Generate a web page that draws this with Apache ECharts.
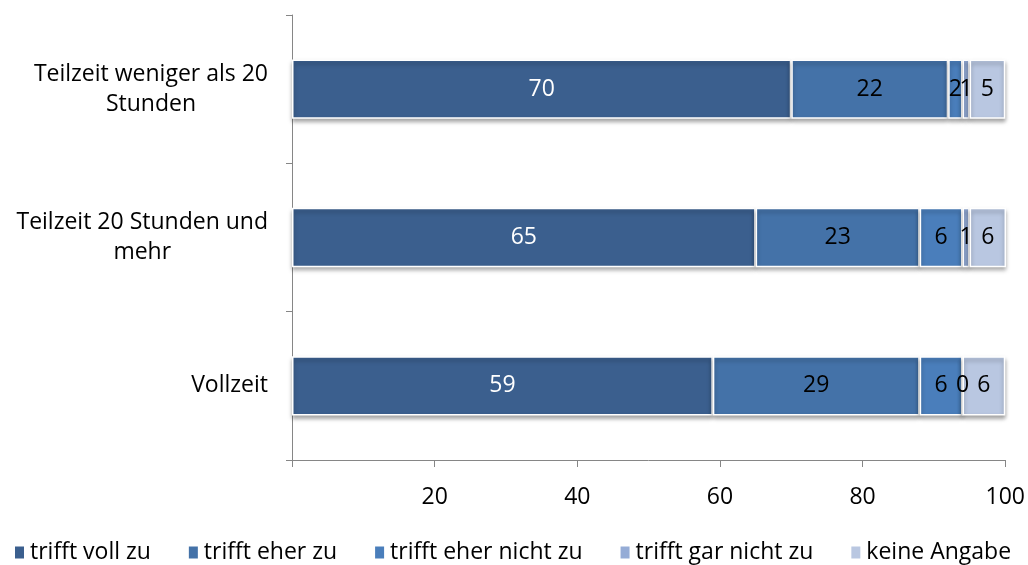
<!DOCTYPE html>
<html>
<head>
<meta charset="utf-8">
<script src="https://cdn.jsdelivr.net/npm/echarts@6/dist/echarts.min.js"></script>
<style>
html,body{margin:0;padding:0;background:#fff;}
#chart{width:1028px;height:565px;}
</style>
</head>
<body>
<div id="chart"></div>
<script>
// Categories listed bottom to top (ECharts category y axis starts at the bottom)
const categories = ["Vollzeit", "Teilzeit 20 Stunden und mehr", "Teilzeit weniger als 20 Stunden"];
const categoryLabels = ["Vollzeit", "Teilzeit 20 Stunden und\nmehr", "Teilzeit weniger als 20\nStunden"];
const seriesNames = ["trifft voll zu", "trifft eher zu", "trifft eher nicht zu", "trifft gar nicht zu", "keine Angabe"];
const trifftVollZu = [59, 65, 70];
const trifftEherZu = [29, 23, 22];
const trifftEherNichtZu = [6, 6, 2];
const trifftGarNichtZu = [0, 1, 1];
const keineAngabe = [6, 6, 5];
const xTicks = [0, 20, 40, 60, 80, 100];

const seriesValues = [trifftVollZu, trifftEherZu, trifftEherNichtZu, trifftGarNichtZu, keineAngabe];
const colors = ["#3b5f8e", "#4472a8", "#4a7ebb", "#95acd6", "#b9c7e1"];
const labelColors = ["#ffffff", "#000000", "#000000", "#000000", "#000000"];
const FONT = "'Open Sans', sans-serif";
const FS = 23;

const chart = echarts.init(document.getElementById('chart'));
chart.setOption({
  animation: false,
  color: colors,
  textStyle: { fontFamily: FONT },
  grid: { left: 292, right: 22, top: 15, bottom: 105 },
  legend: {
    bottom: -4,
    left: 8,
    itemWidth: 11,
    itemHeight: 14,
    itemGap: 36,
    icon: 'rect',
    textStyle: { fontSize: FS, color: '#000', fontFamily: FONT },
    data: seriesNames
  },
  xAxis: {
    type: 'value',
    min: xTicks[0],
    max: xTicks[xTicks.length - 1],
    interval: 20,
    splitLine: { show: false },
    axisLine: { show: true, lineStyle: { color: '#868686', width: 1 } },
    axisTick: { show: true, length: 7, lineStyle: { color: '#868686' } },
    axisLabel: {
      margin: 26, fontSize: FS, color: '#000', fontFamily: FONT,
      formatter: v => v === 0 ? '' : String(v)
    }
  },
  yAxis: {
    type: 'category',
    data: categories,
    axisLine: { show: true, lineStyle: { color: '#868686', width: 1 } },
    axisTick: { show: true, length: 6, lineStyle: { color: '#868686' } },
    axisLabel: {
      margin: 24,
      color: '#000',
      fontSize: FS,
      lineHeight: 30,
      fontFamily: FONT,
      formatter: (v, i) => categoryLabels[i].split('\n').map(s => '{c|' + s + '}').join('\n'),
      rich: { c: { align: 'center', fontSize: FS, lineHeight: 30, fontFamily: FONT, color: '#000' } }
    }
  },
  series: seriesNames.map((name, k) => ({
    name: name,
    type: 'bar',
    stack: 'total',
    barWidth: '40%',
    data: seriesValues[k],
    itemStyle: {
      color: colors[k],
      borderColor: '#ffffff',
      borderWidth: 1.5,
      shadowColor: 'rgba(0,0,0,0.35)',
      shadowBlur: 4,
      shadowOffsetY: 3
    },
    label: {
      show: true,
      position: 'inside',
      color: labelColors[k],
      fontSize: FS,
      fontFamily: FONT
    }
  }))
});
</script>
</body>
</html>
